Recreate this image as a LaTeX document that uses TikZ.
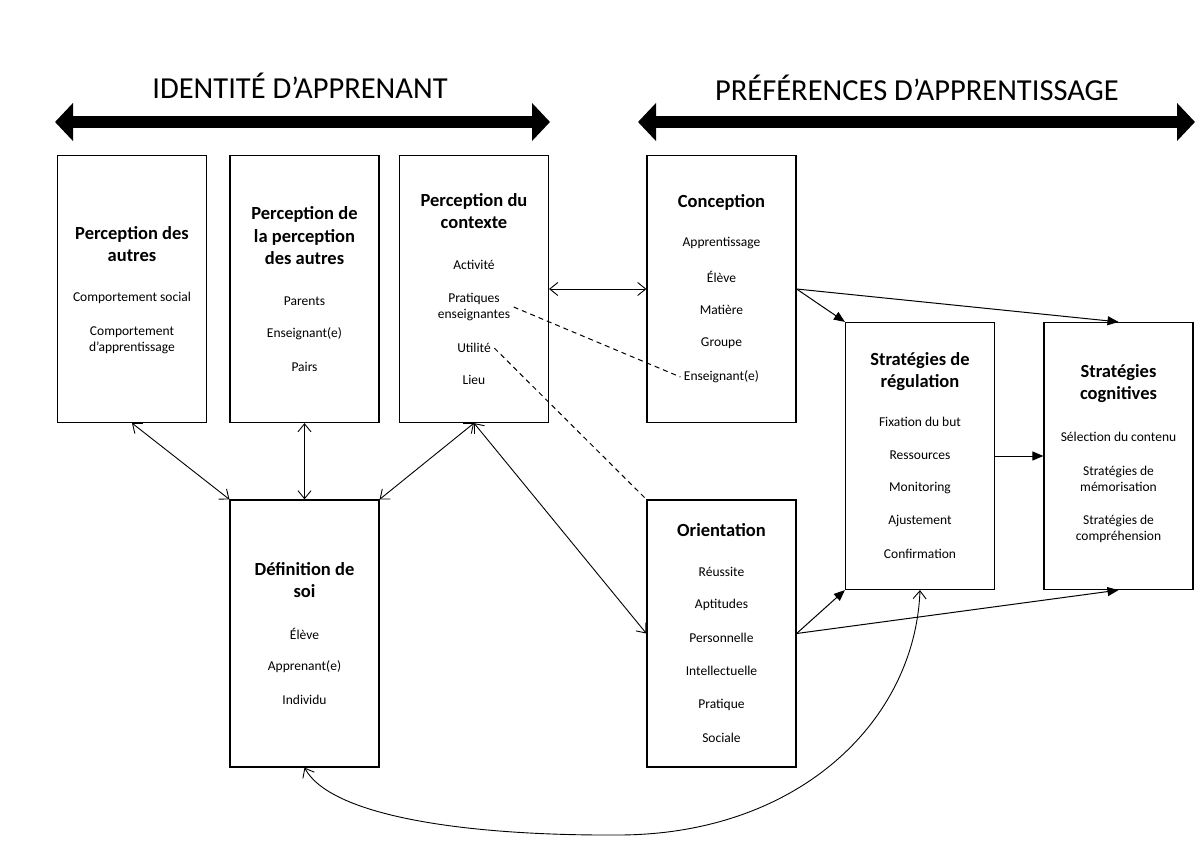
\documentclass[tikz,border=0pt]{standalone}
\usepackage{fontspec}
\setmainfont{Carlito}
\usetikzlibrary{arrows.meta}
\tikzset{
  panel/.style={draw, line width=1.2pt, minimum width=149pt, minimum height=267pt, inner sep=0pt},
  head/.style={align=center, font=\fontsize{18.5}{22.5}\selectfont\bfseries},
  item/.style={align=center, font=\fontsize{13.5}{16}\selectfont},
  banner/.style={font=\fontsize{30.5}{36}\selectfont},
  link/.style={line width=0.9pt, {Straight Barb[length=8pt,width=13pt]}-{Straight Barb[length=8pt,width=13pt]}},
  feed/.style={line width=1pt, -{Triangle[length=11pt,width=9pt]}},
  band/.style={line width=12pt, {Triangle[length=18pt,width=37pt]}-{Triangle[length=18pt,width=37pt]}},
  hint/.style={line width=1pt, dash pattern=on 5pt off 4pt}
}
\begin{document}
\begin{tikzpicture}[x=1pt, y=-1pt]
  \useasboundingbox (0,0) rectangle (1200,853);
  \def \Panels {
    others/132/289,
    peers/304.5/289,
    context/474/289,
    concept/721.5/289,
    regul/920/456,
    cogn/1118.5/456,
    self/304.5/633.5,
    orient/721.5/633.5}
  \def \Heads {
    hothers/132/244/Perception des\\autres,
    hpeers/304.5/236/Perception de\\la perception\\des autres,
    hcontext/474/211/Perception du\\contexte,
    hconcept/721.5/202/Conception,
    hregul/920/371.5/Stratégies de\\régulation,
    hcogn/1118.5/383.5/Stratégies\\cognitives,
    hself/304.5/580/Définition de\\soi,
    horient/721.5/530/Orientation}
  \def \Items {
    ot1/132/298/Comportement social,
    ot2/132/340/Comportement\\d’apprentissage,
    pe1/304.5/301/Parents,
    pe2/304.5/334/Enseignant(e),
    pe3/304.5/367/Pairs,
    cx1/474/265/Activité,
    cx2/474/307/Pratiques\\enseignantes,
    cx3/474/348/Utilité,
    cx4/474/380/Lieu,
    cp1/721.5/243/Apprentissage,
    cp2/721.5/277/Élève,
    cp3/721.5/310/Matière,
    cp4/721.5/343/Groupe,
    cp5/721.5/377/Enseignant(e),
    rg1/920/422/Fixation du but,
    rg2/920/455/Ressources,
    rg3/920/488/Monitoring,
    rg4/920/521/Ajustement,
    rg5/920/554/Confirmation,
    cg1/1118.5/437/Sélection du contenu,
    cg2/1118.5/479/Stratégies de\\mémorisation,
    cg3/1118.5/529/Stratégies de\\compréhension,
    sf1/304.5/634/Élève,
    sf2/304.5/667/Apprenant(e),
    sf3/304.5/700/Individu,
    or1/721.5/572/Réussite,
    or2/721.5/605/Aptitudes,
    or3/721.5/638/Personnelle,
    or4/721.5/671/Intellectuelle,
    or5/721.5/705/Pratique,
    or6/721.5/738/Sociale}

  \foreach \id / \x / \y in \Panels {
    \node[panel] (\id) at (\x, \y) {};
  }
  \foreach \id / \x / \y / \txt in \Heads {
    \node[head] (\id) at (\x, \y) {\txt};
  }
  \foreach \id / \x / \y / \txt in \Items {
    \node[item] (\id) at (\x, \y) {\txt};
  }

  \node[banner] (idtitle) at (300, 86) {IDENTITÉ D’APPRENANT};
  \node[banner] (prtitle) at (917, 88) {PRÉFÉRENCES D’APPRENTISSAGE};
  \coordinate (idl) at (55, 122);
  \coordinate (idr) at (550, 122);
  \coordinate (prl) at (638, 122);
  \coordinate (prr) at (1195, 122);
  \draw[band] (idl) -- (idr);
  \draw[band] (prl) -- (prr);

  \draw[link] (others.south) -- (self.north west);
  \draw[link] (peers.south) -- (self.north);
  \draw[link] (context.south) -- (self.north east);
  \draw[link] (context.south) -- (orient.west);
  \draw[link] (context.east) -- (concept.west);
  \draw[feed] (concept.east) -- (regul.north west);
  \draw[feed] (concept.east) -- (cogn.north);
  \draw[feed] (regul.east) -- (cogn.west);
  \draw[feed] (orient.east) -- (regul.south west);
  \draw[feed] (orient.east) -- (cogn.south);
  \draw[link] (self.south) .. controls (330, 815) and (460, 836) .. (620, 835)
    .. controls (800, 834) and (915, 720) .. (regul.south);
  \draw[hint] (cx2.east) -- (cp5.west);
  \draw[hint] (cx3.east) -- (orient.north west);
\end{tikzpicture}
\end{document}
